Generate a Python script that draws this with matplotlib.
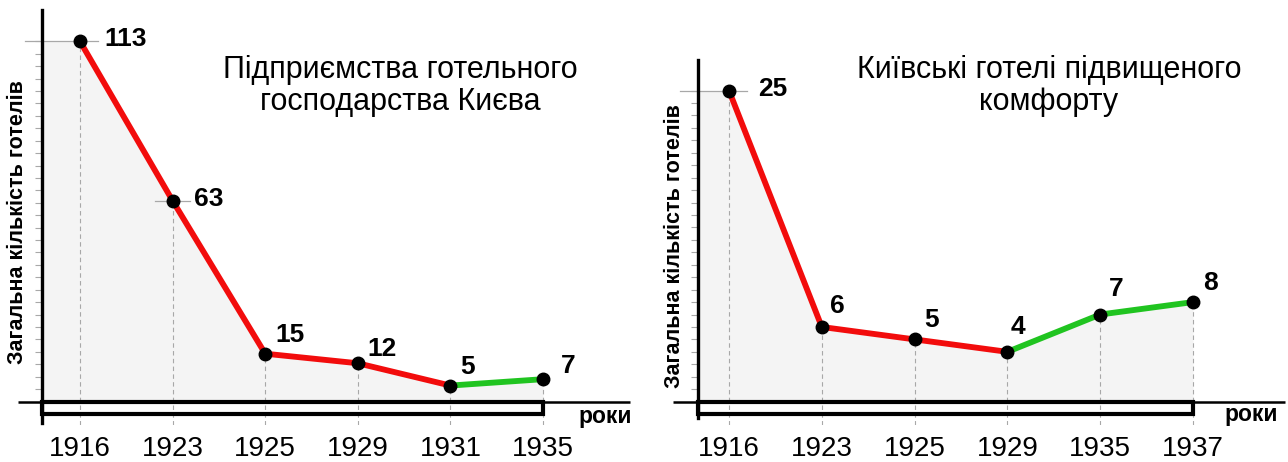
import matplotlib
matplotlib.use('Agg')
import matplotlib.pyplot as plt
from matplotlib.patches import Rectangle
import numpy as np

plt.rcParams['font.family'] = ['Liberation Sans', 'DejaVu Sans']

W, H = 1288, 462

# всі підприємства готельного господарства
years_all = ['1916', '1923', '1925', '1929', '1931', '1935']
hotels_all = [113, 63, 15, 12, 5, 7]

# готелі підвищеного комфорту
years_lux = ['1916', '1923', '1925', '1929', '1935', '1937']
hotels_lux = [25, 6, 5, 4, 7, 8]

title_all = 'Підприємства готельного\nгосподарства Києва'
title_lux = 'Київські готелі підвищеного\nкомфорту'
y_title = 'Загальна кількість готелів'
x_title = 'роки'

RED = '#f20c0c'
GREEN = '#20c420'
FILL = '#f4f4f4'
GREY = '#a8a8a8'

fig = plt.figure(figsize=(W / 100, H / 100), dpi=100)


def fx(x):
    return x / W


def fy(y):
    return 1 - y / H


def panel(values, years, geo, ticks, cross, offsets, title, title_x):
    left, right, top, bottom = geo['box']
    x0, dx, base, k = geo['x0'], geo['dx'], geo['base'], geo['k']
    xd = lambda p: (p - x0) / dx
    yd = lambda p: (base - p) / k

    ax = fig.add_axes([fx(left), fy(bottom), (right - left) / W, (bottom - top) / H])
    ax.patch.set_visible(False)
    ax.set_xlim(xd(left), xd(right))
    ax.set_ylim(yd(bottom), yd(top))
    n = len(values)
    xs = np.arange(n)
    axis_x = xd(geo['axis_x'])

    for s in ['top', 'right', 'bottom']:
        ax.spines[s].set_visible(False)
    ax.spines['left'].set_position(('data', axis_x))
    ax.spines['left'].set_bounds(yd(geo['axis_bottom']), yd(geo['axis_top']))
    ax.spines['left'].set_linewidth(2.4)
    ax.set_yticks(ticks)
    ax.tick_params(axis='y', direction='out', length=5, width=0.8, color=GREY, labelleft=False)
    ax.set_xticks(xs, years)
    ax.tick_params(axis='x', length=0, pad=8, labelsize=20)

    # shaded area under the curve, starting at the axis
    ax.fill_between([axis_x] + list(xs), [values[0]] + list(values), 0, color=FILL, lw=0, zorder=0)
    ax.vlines(xs, yd(bottom), values, colors=GREY, linestyles=(0, (4, 3)), lw=0.8, zorder=1)

    for i, (a, b) in cross.items():
        ax.plot([i + a / dx, i + b / dx], [values[i], values[i]], color=GREY, lw=0.9, zorder=1)

    # baseline and the frame under the plot
    ax.plot([xd(geo['base_l']), xd(geo['base_r'])], [0, 0], color='black', lw=1.8,
            solid_capstyle='butt', zorder=2)
    rh = geo['rect_h'] / k
    ax.add_patch(Rectangle((axis_x, -rh), n - 1 - axis_x, rh, fill=False, ec='black',
                           lw=3, joinstyle='miter', zorder=2))

    for i in range(n - 1):
        c = GREEN if values[i + 1] > values[i] else RED
        ax.plot([i, i + 1], [values[i], values[i + 1]], color=c, lw=4.2,
                solid_capstyle='round', zorder=3)
    ax.plot(xs, values, 'o', color='black', ms=9, zorder=4)

    for i, v in enumerate(values):
        ox, oy = offsets[i]
        ax.annotate(str(v), (i, v), xytext=(ox * 0.72, -oy * 0.72), textcoords='offset points',
                    ha='center', va='center', fontsize=19, fontweight='bold')

    fig.text(fx(title_x), fy(55), title, ha='center', va='top', fontsize=22, linespacing=1.1)
    fig.text(fx(geo['ylab_x']), fy(geo['ylab_y']), y_title, rotation=90, ha='center', va='center',
             fontsize=15.5, fontweight='bold')
    fig.text(fx(geo['xlab_x']), fy(geo['xlab_y']), x_title, ha='center', va='center',
             fontsize=16.5, fontweight='bold')
    return ax


geo_all = dict(box=(0, 640, 5, 425), x0=80, dx=92.6, base=401.5, k=3.187,
               axis_x=42, axis_top=10, axis_bottom=423, rect_h=12.7,
               base_l=18, base_r=630, ylab_x=18, ylab_y=222, xlab_x=605, xlab_y=417)
geo_lux = dict(box=(640, 1288, 5, 425), x0=729, dx=92.8, base=401.6, k=12.44,
               axis_x=698, axis_top=60, axis_bottom=418, rect_h=12.7,
               base_l=673, base_r=1285, ylab_x=674, ylab_y=246, xlab_x=1251, xlab_y=415)

panel(hotels_all, years_all, geo_all, np.linspace(0, 113, 30),
      {0: (-55, 18), 1: (-18, 17)},
      [(46, -2), (36, -2), (25, -19), (24, -14), (17, -19), (25, -13)],
      title_all, 400)
panel(hotels_lux, years_lux, geo_lux, np.arange(0, 26),
      {0: (-49, 18)},
      [(44, -2), (16, -21), (17, -19), (11, -25), (16, -26), (17, -19)],
      title_lux, 1049)

fig.savefig('out.png', dpi=100)
